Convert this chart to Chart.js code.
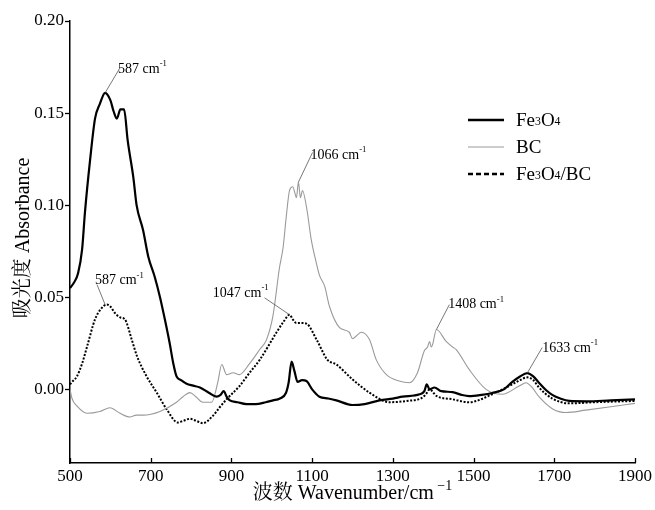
<!DOCTYPE html>
<html>
<head>
<meta charset="utf-8">
<script src="https://cdn.jsdelivr.net/npm/chart.js@4"></script>
<style>
  html, body { margin: 0; padding: 0; background: #fff; }
  #wrap { width: 655px; height: 510px; }
</style>
</head>
<body>
<div id="wrap"><canvas id="ftir"></canvas></div>
<script>
// 데이터
const fe3o4X = [500, 510, 520, 530, 537, 550, 562, 574, 587, 600, 608, 616, 625, 634, 643, 657, 665, 681, 694, 710, 723, 735, 747, 756, 764, 775, 789, 805, 822, 845, 863, 873, 881, 888, 896, 915, 937, 960, 985, 1003, 1020, 1035, 1042, 1049, 1056, 1064, 1075, 1086, 1100, 1118, 1140, 1160, 1200, 1230, 1267, 1300, 1324, 1366, 1378, 1384, 1391, 1403, 1420, 1448, 1470, 1489, 1520, 1546, 1575, 1596, 1615, 1633, 1648, 1662, 1680, 1695, 1715, 1737, 1780, 1840, 1900];
const fe3o4Y = [0.055, 0.058, 0.063, 0.076, 0.096, 0.125, 0.147, 0.155, 0.161, 0.157, 0.151, 0.147, 0.152, 0.152, 0.135, 0.115, 0.100, 0.0865, 0.072, 0.061, 0.050, 0.038, 0.025, 0.014, 0.007, 0.005, 0.003, 0.002, 0.001, -0.002, -0.004, -0.003, -0.001, -0.004, -0.006, -0.007, -0.008, -0.008, -0.007, -0.006, -0.005, -0.002, 0.004, 0.015, 0.010, 0.004, 0.005, 0.0045, 0.000, -0.004, -0.005, -0.006, -0.0085, -0.008, -0.006, -0.005, -0.004, -0.0027, -0.001, 0.0027, 0.000, 0.001, -0.001, -0.0015, -0.003, -0.0037, -0.003, -0.002, 0.000, 0.004, 0.007, 0.0088, 0.007, 0.0036, -0.0005, -0.003, -0.005, -0.0063, -0.0065, -0.006, -0.0055];

const bcX = [500, 505, 517, 542, 574, 599, 624, 648, 665, 681, 723, 764, 780, 797, 812, 829, 851, 866, 876, 888, 904, 920, 945, 970, 987, 1003, 1019, 1028, 1036, 1044, 1052, 1058, 1061, 1066, 1071, 1076, 1086, 1098, 1111, 1118, 1131, 1143, 1168, 1192, 1200, 1222, 1242, 1259, 1284, 1316, 1341, 1361, 1378, 1386, 1391, 1395, 1398, 1408, 1432, 1448, 1457, 1489, 1531, 1571, 1613, 1630, 1645, 1662, 1695, 1729, 1778, 1840, 1900];
const bcY = [0.000, -0.005, -0.009, -0.013, -0.012, -0.010, -0.013, -0.015, -0.014, -0.014, -0.012, -0.007, -0.004, -0.0018, -0.004, -0.007, -0.007, 0.0036, 0.0135, 0.008, 0.009, 0.008, 0.014, 0.0216, 0.027, 0.040, 0.066, 0.077, 0.094, 0.108, 0.110, 0.106, 0.104, 0.1125, 0.104, 0.108, 0.099, 0.081, 0.068, 0.062, 0.056, 0.045, 0.0335, 0.031, 0.0275, 0.031, 0.027, 0.016, 0.008, 0.0045, 0.0036, 0.009, 0.021, 0.023, 0.026, 0.023, 0.024, 0.0325, 0.026, 0.023, 0.0216, 0.0108, 0.000, -0.0027, 0.0018, 0.0036, 0.001, -0.004, -0.0105, -0.0126, -0.0113, -0.0095, -0.0076];

const compX = [500, 505, 517, 530, 542, 562, 578, 591, 600, 611, 625, 636, 653, 666, 690, 715, 740, 767, 782, 797, 812, 829, 854, 870, 888, 920, 945, 970, 1012, 1030, 1044, 1052, 1061, 1075, 1086, 1111, 1138, 1160, 1200, 1242, 1292, 1334, 1373, 1384, 1391, 1408, 1448, 1489, 1546, 1596, 1615, 1633, 1648, 1662, 1695, 1737, 1800, 1900];
const compY = [0.0027, 0.004, 0.007, 0.014, 0.023, 0.038, 0.044, 0.046, 0.045, 0.0415, 0.039, 0.038, 0.027, 0.018, 0.007, -0.0018, -0.011, -0.018, -0.017, -0.016, -0.017, -0.0184, -0.0144, -0.010, -0.0054, 0.0018, 0.009, 0.016, 0.031, 0.037, 0.0405, 0.038, 0.036, 0.036, 0.0357, 0.027, 0.016, 0.0135, 0.0054, -0.0018, -0.007, -0.0063, -0.0045, -0.002, 0.000, -0.0036, -0.0054, -0.007, -0.0027, 0.0027, 0.005, 0.0065, 0.005, 0.001, -0.005, -0.0076, -0.007, -0.0063];

const xTicks = [500, 700, 900, 1100, 1300, 1500, 1700, 1900];
const yTicks = [0.0, 0.05, 0.1, 0.15, 0.2];

// 피크 표시: [라벨, 피크 x, 피크 y, 선 끝 x, 선 끝 y, 글자 x, 글자 y]
const peakNotes = [
  ["587", 587, 0.161, 624, 0.1746, 619, 0.174],
  ["1066", 1066, 0.1125, 1101, 0.1286, 1096, 0.127],
  ["587", 587, 0.046, 567, 0.0568, 562, 0.059],
  ["1047", 1044, 0.0405, 982, 0.0497, 854, 0.0524],
  ["1408", 1408, 0.0325, 1440, 0.046, 1437, 0.046],
  ["1633", 1633, 0.0088, 1670, 0.0227, 1670, 0.0222],
];

const SERIF = "'Liberation Serif', 'Times New Roman', 'Noto Serif CJK SC', 'Noto Sans CJK SC', serif";

function toPts(xs, ys) {
  return xs.map((x, i) => ({ x: x, y: ys[i] }));
}

// 위첨자/아래첨자 텍스트 그리기
function drawRich(ctx, parts, x, y, size) {
  let cx = x;
  parts.forEach((p) => {
    let s = size;
    let dy = 0;
    if (p.sup) { s = size * 0.62; dy = -size * 0.38; }
    if (p.sub) { s = size * 0.62; dy = size * 0.05; }
    ctx.font = s + "px " + SERIF;
    ctx.fillText(p.t, cx, y + dy);
    cx += ctx.measureText(p.t).width;
  });
  return cx - x;
}

const notesPlugin = {
  id: "notes",
  afterDraw(chart) {
    const ctx = chart.ctx;
    const xs = chart.scales.x;
    const ys = chart.scales.y;
    ctx.save();

    // x축 안쪽 눈금
    ctx.strokeStyle = "#000";
    ctx.lineWidth = 1.3;
    xTicks.forEach((v) => {
      const px = Math.round(xs.getPixelForValue(v)) + 0.5;
      ctx.beginPath();
      ctx.moveTo(px, ys.bottom);
      ctx.lineTo(px, ys.bottom - 5);
      ctx.stroke();
    });

    // 피크 라벨
    ctx.textBaseline = "middle";
    ctx.textAlign = "left";
    ctx.fillStyle = "#000";
    peakNotes.forEach((n) => {
      const x1 = xs.getPixelForValue(n[1]);
      const y1 = ys.getPixelForValue(n[2]);
      const x2 = xs.getPixelForValue(n[3]);
      const y2 = ys.getPixelForValue(n[4]);
      ctx.strokeStyle = "#555";
      ctx.lineWidth = 0.8;
      ctx.beginPath();
      ctx.moveTo(x1, y1);
      ctx.lineTo(x2, y2);
      ctx.stroke();
      const tx = xs.getPixelForValue(n[5]);
      const ty = ys.getPixelForValue(n[6]);
      drawRich(ctx, [{ t: n[0] + " cm" }, { t: "-1", sup: true }], tx, ty, 14);
    });

    // 범례
    const lx = 468;
    const rows = [
      { y: 120, dash: [], w: 2.6, c: "#000", parts: [{ t: "Fe" }, { t: "3", sub: true }, { t: "O" }, { t: "4", sub: true }] },
      { y: 147, dash: [], w: 1, c: "#999", parts: [{ t: "BC" }] },
      { y: 174, dash: [5, 3], w: 2.4, c: "#000", parts: [{ t: "Fe" }, { t: "3", sub: true }, { t: "O" }, { t: "4", sub: true }, { t: "/BC" }] },
    ];
    rows.forEach((r) => {
      ctx.strokeStyle = r.c;
      ctx.lineWidth = r.w;
      ctx.setLineDash(r.dash);
      ctx.beginPath();
      ctx.moveTo(lx, r.y);
      ctx.lineTo(lx + 36, r.y);
      ctx.stroke();
      ctx.setLineDash([]);
      ctx.fillStyle = "#000";
      drawRich(ctx, r.parts, lx + 48, r.y + 1, 19);
    });

    // 축 제목
    ctx.fillStyle = "#000";
    ctx.font = "20px " + SERIF;
    const xt1 = "波数 Wavenumber/cm";
    const xt2 = " \u22121";
    const w1 = ctx.measureText(xt1).width;
    ctx.font = "14px " + SERIF;
    const w2 = ctx.measureText(xt2).width;
    const cxm = (xs.left + xs.right) / 2;
    ctx.font = "20px " + SERIF;
    let sx = cxm - (w1 + w2) / 2;
    ctx.fillText(xt1, sx, 494);
    ctx.font = "14px " + SERIF;
    ctx.fillText(xt2, sx + w1, 486);

    ctx.translate(24, (ys.top + ys.bottom) / 2 - 4);
    ctx.rotate(-Math.PI / 2);
    ctx.textAlign = "center";
    ctx.font = "20px " + SERIF;
    ctx.fillText("吸光度 Absorbance", 0, 0);
    ctx.restore();
  },
};

const ftirChart = new Chart(document.getElementById("ftir").getContext("2d"), {
  type: "line",
  data: {
    datasets: [
      {
        label: "Fe3O4",
        data: toPts(fe3o4X, fe3o4Y),
        borderColor: "#000",
        borderWidth: 2.2,
        pointRadius: 0,
        cubicInterpolationMode: "monotone",
      },
      {
        label: "BC",
        data: toPts(bcX, bcY),
        borderColor: "#9a9a9a",
        borderWidth: 1.1,
        pointRadius: 0,
        cubicInterpolationMode: "monotone",
      },
      {
        label: "Fe3O4/BC",
        data: toPts(compX, compY),
        borderColor: "#000",
        borderWidth: 2,
        borderDash: [2, 1.6],
        pointRadius: 0,
        cubicInterpolationMode: "monotone",
      },
    ],
  },
  options: {
    responsive: true,
    maintainAspectRatio: false,
    animation: false,
    layout: { padding: { top: 21, right: 19, left: 0, bottom: 0 } },
    plugins: {
      legend: { display: false },
      tooltip: { enabled: false },
    },
    scales: {
      x: {
        type: "linear",
        min: 500,
        max: 1900,
        afterBuildTicks: (scale) => {
          scale.ticks = xTicks.map((v) => ({ value: v }));
        },
        afterFit: (scale) => {
          scale.height = 47;
        },
        grid: { display: true, drawOnChartArea: false, drawTicks: false },
        border: { display: true, color: "#000", width: 1.5 },
        ticks: {
          color: "#000",
          padding: 3,
          maxRotation: 0,
          font: { family: SERIF, size: 17 },
          callback: (v) => String(v),
        },
      },
      y: {
        min: -0.04,
        max: 0.2,
        afterBuildTicks: (scale) => {
          scale.ticks = yTicks.map((v) => ({ value: v }));
        },
        afterFit: (scale) => {
          scale.width = 70;
        },
        grid: { display: true, drawOnChartArea: false, drawTicks: true, tickLength: 5, color: "#000", tickWidth: 1.3 },
        border: { display: true, color: "#000", width: 1.5 },
        ticks: {
          color: "#000",
          padding: 1,
          font: { family: SERIF, size: 17 },
          callback: (v) => Number(v).toFixed(2),
        },
      },
    },
  },
  plugins: [notesPlugin],
});
</script>
</body>
</html>
